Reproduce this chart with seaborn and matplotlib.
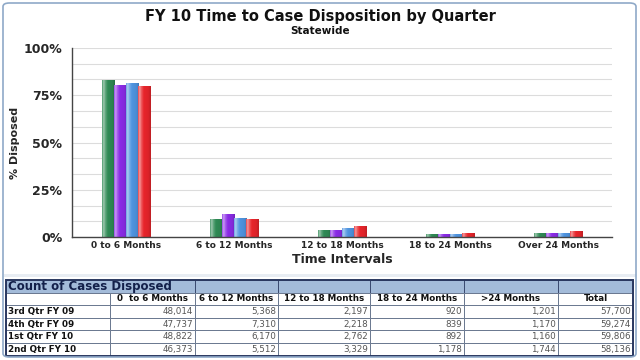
import numpy as np
import pandas as pd
import matplotlib
matplotlib.use("Agg")
import matplotlib.pyplot as plt
from matplotlib.patches import Rectangle, FancyBboxPatch
from matplotlib.ticker import MultipleLocator, FuncFormatter
from matplotlib.colors import to_rgb
import seaborn as sns

# ---- data ----
intervals = ["0 to 6 Months", "6 to 12 Months", "12 to 18 Months", "18 to 24 Months", "Over 24 Months"]
quarters = ["3rd Qtr FY 09", "4th Qtr FY 09", "1st Qtr FY 10", "2nd Qtr FY 10"]
q3_fy09 = [48014, 5368, 2197, 920, 1201]
q4_fy09 = [47737, 7310, 2218, 839, 1170]
q1_fy10 = [48822, 6170, 2762, 892, 1160]
q2_fy10 = [46373, 5512, 3329, 1178, 1744]
totals = [57700, 59274, 59806, 58136]
table_cols = ["0  to 6 Months", "6 to 12 Months", "12 to 18 Months", "18 to 24 Months", ">24 Months", "Total"]

counts = [q3_fy09, q4_fy09, q1_fy10, q2_fy10]
rows = []
for q, c, t in zip(quarters, counts, totals):
    for iv, v in zip(intervals, c):
        rows.append({"Interval": iv, "Quarter": q, "Pct": v / t * 100})
df = pd.DataFrame(rows)

colors = ["#2f8a55", "#8a2be6", "#4f94e0", "#e8252b"]

sns.set_theme(style="white")
plt.rcParams["font.family"] = ["DejaVu Sans"]

fig = plt.figure(figsize=(6.4, 3.6), dpi=100)
fig.patch.set_facecolor("white")

# outer frame
frame = FancyBboxPatch((3 / 640, 3 / 360), 633 / 640, 354 / 360, boxstyle="round,pad=0,rounding_size=0.01",
                       transform=fig.transFigure, fill=False, edgecolor="#8fa9c8", linewidth=1.2)
fig.patches.append(frame)

ax = fig.add_axes([72 / 640, 1 - 237 / 360, 540 / 640, 189 / 360])
sns.barplot(data=df, x="Interval", y="Pct", hue="Quarter", order=intervals, hue_order=quarters,
            palette=colors, width=0.45, ax=ax, legend=False, edgecolor="none", saturation=1)

# gradient shading on each bar (cylinder-like highlight)
xs = np.linspace(0, 1, 40)
shade = np.interp(xs, [0, 0.12, 0.25, 0.45, 0.8, 1.0], [0.15, 0.55, 0.25, 0.0, -0.05, -0.18])
for patch in list(ax.patches):
    h = patch.get_height()
    if h <= 0:
        continue
    base = np.array(to_rgb(patch.get_facecolor()))
    img = np.zeros((1, len(xs), 3))
    for k, s in enumerate(shade):
        if s >= 0:
            img[0, k] = base + (1 - base) * s
        else:
            img[0, k] = base * (1 + s)
    x0 = patch.get_x()
    w = patch.get_width()
    im = ax.imshow(img, extent=[x0, x0 + w, 0, h], aspect="auto", origin="lower", zorder=patch.get_zorder() + 0.1,
                   interpolation="bilinear")
    im.set_clip_path(patch)

ax.set_xlim(-0.5, len(intervals) - 0.5)
ax.set_ylim(0, 100)
ax.yaxis.set_major_locator(MultipleLocator(25))
ax.yaxis.set_minor_locator(MultipleLocator(25 / 3))
ax.yaxis.set_major_formatter(FuncFormatter(lambda v, p: f"{int(v)}%"))
ax.grid(True, which="both", axis="y", color="#dcdcdc", linewidth=0.8)
ax.set_axisbelow(True)
for s in ["top", "right"]:
    ax.spines[s].set_visible(False)
for s in ["left", "bottom"]:
    ax.spines[s].set_color("#444444")
    ax.spines[s].set_linewidth(1.0)
ax.tick_params(axis="y", which="major", length=3, width=0.8, color="#444444", labelsize=9, pad=4)
ax.tick_params(axis="y", which="minor", length=0)
ax.tick_params(axis="x", length=0, labelsize=6.5, pad=3)
for lbl in ax.get_yticklabels():
    lbl.set_fontweight("bold")
for lbl in ax.get_xticklabels():
    lbl.set_fontweight("bold")
ax.set_xlabel("Time Intervals", fontsize=9, fontweight="bold", labelpad=2)
ax.set_ylabel("% Disposed", fontsize=8, fontweight="bold")
ax.yaxis.set_label_coords(-52 / 540, 0.5)

fig.text(0.5, 1 - 17 / 360, "FY 10 Time to Case Disposition by Quarter", ha="center", va="center",
         fontsize=10.5, fontweight="bold", color="#111111")
fig.text(0.5, 1 - 31 / 360, "Statewide", ha="center", va="center", fontsize=7.5, fontweight="bold",
         color="#111111")

# separator band
fig.add_artist(Rectangle((4 / 640, 1 - 277 / 360), 632 / 640, 3 / 360, transform=fig.transFigure,
                         facecolor="#e8edf3", edgecolor="none"))

# ---- table ----
tax = fig.add_axes([0, 0, 1, 1], facecolor="none")
tax.set_xlim(0, 640)
tax.set_ylim(360, 0)
tax.axis("off")
col_x = [6, 110, 195, 278, 370, 464, 558, 633]
top = 280
rh = 12.6
row_y = [top + i * rh for i in range(7)]
hdr_color = "#a3bbd9"
# header band
for x0, x1 in zip([col_x[0]] + col_x[2:-1], col_x[2:]):
    tax.add_patch(Rectangle((x0, row_y[0]), x1 - x0, rh, facecolor=hdr_color, edgecolor="#3a4a70", linewidth=0.7))
tax.text(col_x[0] + 2, row_y[0] + rh / 2 + 0.5, "Count of Cases Disposed", ha="left", va="center",
         fontsize=8.5, fontweight="bold", color="#13204a")
# body cells
for r in range(1, 6):
    for c in range(len(col_x) - 1):
        tax.add_patch(Rectangle((col_x[c], row_y[r]), col_x[c + 1] - col_x[c], rh, facecolor="white",
                                edgecolor="#6a7890", linewidth=0.7))
for c, name in enumerate(table_cols):
    x0, x1 = col_x[c + 1], col_x[c + 2]
    tax.text((x0 + x1) / 2, row_y[1] + rh / 2, name, ha="center", va="center", fontsize=6.3,
             fontweight="bold", color="#111111")
for r, (q, cvals, t) in enumerate(zip(quarters, counts, totals)):
    y = row_y[r + 2] + rh / 2
    tax.text(col_x[0] + 2, y, q, ha="left", va="center", fontsize=6.3, fontweight="bold", color="#111111")
    for c, v in enumerate(list(cvals) + [t]):
        tax.text(col_x[c + 2] - 2, y, f"{v:,}", ha="right", va="center", fontsize=6.3, color="#555555")
# outer table border
tax.add_patch(Rectangle((col_x[0], row_y[0]), col_x[-1] - col_x[0], rh * 6, fill=False,
                        edgecolor="#2a3860", linewidth=1.4))

fig.savefig("out.png", dpi=100, facecolor="white")
